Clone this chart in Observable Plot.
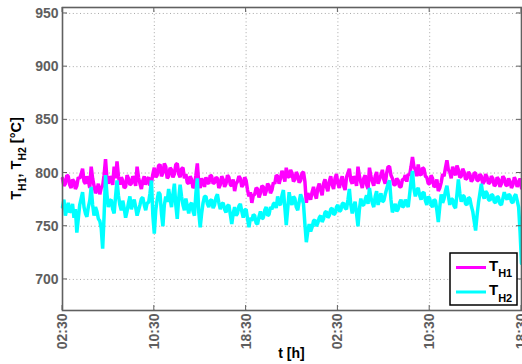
<!DOCTYPE html>
<html><head><meta charset="utf-8">
<script src="https://cdn.jsdelivr.net/npm/d3@7"></script>
<script src="https://cdn.jsdelivr.net/npm/@observablehq/plot@0.6"></script>
<style>
body{margin:0;background:#fff;}
svg text{font-family:"Liberation Sans",Arial,Helvetica,sans-serif;}
</style></head><body><div id="chart"></div>
<script>
// sampling step in hours from 02:30 of day 1
const stepHours = 0.125;
const tickHours = [0, 8, 16, 24, 32, 40];
const tickLabels = ["02:30", "10:30", "18:30", "02:30", "10:30", "18:30"];
const yTicks = [700, 750, 800, 850, 900, 950];
const seriesNames = ["TH1", "TH2"];
const seriesColors = ["#ff00ff", "#00ffff"];

const tH1 = [
795,788,790,798,797,789,786,794,792,785,788,796,795,799,804,792,790,797,793,786,
806,795,788,781,784,790,780,786,788,798,813,794,790,797,794,789,806,795,811,797,
789,796,793,786,787,798,795,789,790,797,794,788,806,796,790,785,793,797,789,794,
796,788,791,799,805,796,798,807,808,797,800,809,806,795,797,805,803,796,799,808,
809,799,796,804,805,795,799,791,790,797,794,786,788,798,809,790,786,795,792,787,
796,791,790,798,797,790,791,796,795,786,789,797,794,787,790,798,796,789,788,794,
783,790,792,797,795,787,789,796,793,784,778,782,772,779,780,786,785,777,781,788,
787,779,783,790,788,781,784,791,790,798,797,790,795,802,799,792,805,797,796,803,
800,792,794,801,798,791,793,800,801,792,772,781,778,775,782,787,780,776,786,790,
784,779,790,794,787,783,792,797,789,785,795,799,790,786,793,797,788,784,796,800,
804,793,790,797,794,788,806,797,791,786,795,798,789,785,805,797,792,788,797,801,
790,794,798,803,794,790,800,806,806,798,795,789,789,795,793,787,787,794,794,798,
792,799,798,806,815,806,803,797,808,799,798,805,804,797,796,790,790,798,795,787,
788,794,783,786,791,799,797,805,812,803,801,795,806,801,798,807,803,796,797,804,
801,794,795,801,799,792,794,800,800,793,793,799,797,790,792,799,796,790,791,797,
795,788,789,796,794,787,790,797,795,789,788,795,792,786,789,796,793,787,790,795,
786];

const tH2 = [
768,775,760,766,772,763,765,771,758,766,744,757,770,776,782,768,762,759,768,774,
787,770,760,768,764,757,755,748,729,760,798,780,768,774,775,766,762,778,793,779,
770,765,774,767,758,764,772,778,766,771,775,768,760,765,770,776,777,770,765,772,
772,781,793,760,743,765,775,782,780,762,750,770,778,773,785,776,768,780,790,770,
757,776,789,778,770,765,776,769,762,770,772,764,760,781,795,763,749,762,772,778,
778,771,768,774,775,767,770,777,780,772,766,771,772,766,763,769,770,761,752,762,
768,760,762,769,771,764,758,765,766,757,749,758,755,761,760,753,752,759,764,757,
758,765,768,760,761,768,766,771,772,767,778,771,770,779,784,768,751,766,782,774,
770,778,776,768,765,773,780,776,771,752,735,745,752,745,749,755,756,750,753,758,
760,754,757,763,764,758,760,766,767,761,762,768,770,764,765,771,772,767,766,775,
785,770,762,769,773,762,750,766,776,770,770,775,779,771,786,777,772,768,778,783,
770,776,781,773,774,780,785,790,793,775,763,767,771,764,766,772,775,768,769,775,
772,768,780,792,802,785,778,784,786,779,775,781,782,774,770,778,776,770,768,775,
774,765,754,768,780,772,776,783,788,779,770,776,775,769,767,780,794,781,773,779,
778,771,770,777,776,769,764,755,746,760,772,781,790,780,776,783,781,775,774,780,
779,773,772,778,777,771,770,776,782,777,775,780,779,773,772,778,780,774,768,745,
715];

const rows = [];
[tH1, tH2].forEach((vals, k) => vals.forEach((v, i) => rows.push({t: i * stepHours, v, s: seriesNames[k]})));

const font = '"Liberation Sans",Arial,Helvetica,sans-serif';
const gridStyle = {stroke: "#a8a8a8", strokeOpacity: 1, strokeWidth: 1, strokeDasharray: "1,2.6"};

const plot = Plot.plot({
  width: 522, height: 364,
  marginLeft: 62, marginRight: 1, marginTop: 7, marginBottom: 54,
  style: {fontFamily: font, background: "#fff"},
  x: {domain: [0, 40], label: null},
  y: {domain: [670.8, 955.6], label: null},
  marks: [
    Plot.gridX(tickHours, gridStyle),
    Plot.gridY(yTicks, gridStyle),
    Plot.lineY(rows.filter(d => d.s === "TH1"), {x: "t", y: "v", stroke: seriesColors[0], strokeWidth: 3.5, strokeLinejoin: "miter"}),
    Plot.lineY(rows.filter(d => d.s === "TH2"), {x: "t", y: "v", stroke: seriesColors[1], strokeWidth: 3.5, strokeLinejoin: "miter"}),
    Plot.frame({stroke: "#606060", strokeWidth: 1.6}),
    Plot.axisX(tickHours, {anchor: "bottom", tickSize: 0, tickPadding: 3, tickRotate: -90,
      tickFormat: (d) => tickLabels[tickHours.indexOf(d)], fill: "#5e5e5e", fontWeight: "bold", fontSize: 14, label: null}),
    Plot.axisY(yTicks, {anchor: "left", tickSize: 0, tickPadding: 4, fill: "#5e5e5e", fontWeight: "bold", fontSize: 14, label: null})
  ]
});
document.getElementById("chart").appendChild(plot);

const svg = d3.select(plot);
const xs = plot.scale("x"), ys = plot.scale("y");
const [x0, x1] = xs.range, [yb, yt] = ys.range;

// inward tick marks (MATLAB style)
const tk = svg.append("g").attr("stroke", "#606060").attr("stroke-width", 1);
yTicks.forEach(v => {
  const y = ys.apply(v);
  tk.append("line").attr("x1", x0).attr("x2", x0 + 5).attr("y1", y).attr("y2", y);
  tk.append("line").attr("x1", x1).attr("x2", x1 - 5).attr("y1", y).attr("y2", y);
});
tickHours.forEach(h => {
  const x = xs.apply(h);
  tk.append("line").attr("x1", x).attr("x2", x).attr("y1", yb).attr("y2", yb - 5);
  tk.append("line").attr("x1", x).attr("x2", x).attr("y1", yt).attr("y2", yt + 5);
});

// axis titles
svg.append("text").attr("x", (x0 + x1) / 2).attr("y", 358).attr("text-anchor", "middle")
  .attr("font-weight", "bold").attr("font-size", 14).attr("fill", "#000").text("t [h]");

const yl = svg.append("text").attr("transform", `translate(21,${(yb + yt) / 2}) rotate(-90)`)
  .attr("text-anchor", "middle").attr("font-weight", "bold").attr("font-size", 14.5).attr("fill", "#000");
yl.append("tspan").text("T");
yl.append("tspan").attr("font-size", 10.5).attr("dy", 5).text("H1");
yl.append("tspan").attr("dy", -5).text(", T");
yl.append("tspan").attr("font-size", 10.5).attr("dy", 5).text("H2");
yl.append("tspan").attr("dy", -5).text(" [°C]");

// legend
const lg = svg.append("g");
lg.append("rect").attr("x", 450).attr("y", 253).attr("width", 67).attr("height", 52)
  .attr("fill", "#fff").attr("stroke", "#000").attr("stroke-width", 1.5);
[["H1", 267.5, 270.5], ["H2", 292, 295]].forEach(([sub, ly, by], i) => {
  lg.append("line").attr("x1", 456).attr("x2", 486).attr("y1", ly).attr("y2", ly)
    .attr("stroke", seriesColors[i]).attr("stroke-width", 3);
  const t = lg.append("text").attr("x", 489).attr("y", by).attr("text-anchor", "start")
    .attr("font-weight", "bold").attr("font-size", 15).attr("fill", "#000");
  t.append("tspan").text("T");
  t.append("tspan").attr("font-size", 11).attr("dy", 6.5).text(sub);
});
</script>
</body></html>
